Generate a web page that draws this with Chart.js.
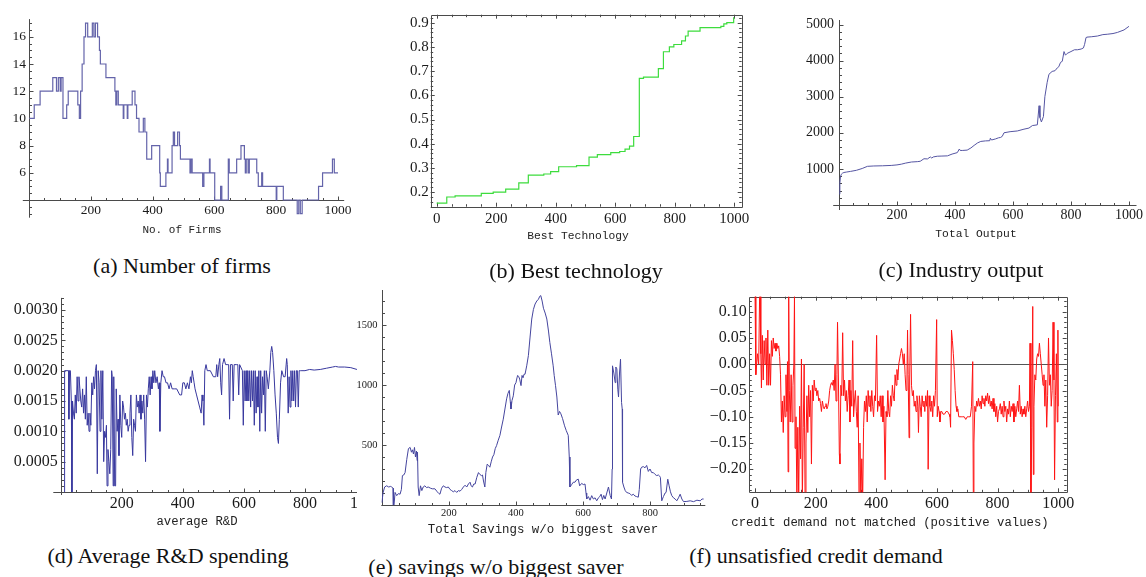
<!DOCTYPE html>
<html>
<head>
<meta charset="utf-8">
<script src="https://cdn.jsdelivr.net/npm/chart.js@4.4.1/dist/chart.umd.min.js"></script>
<style>
  body { margin: 0; width: 1146px; height: 577px; background: #fff; position: relative; overflow: hidden; }
  canvas { position: absolute; }
  .cap { position: absolute; z-index: 6; font-family: "Liberation Serif", "Times New Roman", Times, serif; font-size: 22px; color: #111; white-space: nowrap; transform: translate(-50%, -50%); }
  .lbl { position: absolute; z-index: 5; font-family: "Liberation Mono", "Courier New", Courier, monospace; color: #222; white-space: nowrap; transform: translate(-50%, -50%); }
</style>
</head>
<body>
<canvas id="ca" width="360" height="245" style="left:0;top:0"></canvas>
<canvas id="cb" width="390" height="245" style="left:370px;top:0"></canvas>
<canvas id="cc" width="366" height="245" style="left:780px;top:0"></canvas>
<canvas id="cd" width="390" height="245" style="left:0;top:280px;z-index:1"></canvas>
<canvas id="ce" width="353" height="240" style="left:357px;top:285px;z-index:2;background:#fff"></canvas>
<canvas id="cf" width="446" height="250" style="left:700px;top:280px;z-index:3"></canvas>

<div class="lbl" style="left:182px;top:230px;font-size:11px">No. of Firms</div>
<div class="lbl" style="left:578px;top:236px;font-size:11.3px">Best Technology</div>
<div class="lbl" style="left:976px;top:234px;font-size:11.3px">Total Output</div>
<div class="lbl" style="left:197px;top:522px;font-size:12.3px">average R&amp;D</div>
<div class="lbl" style="left:543px;top:530px;font-size:12.4px">Total Savings w/o biggest saver</div>
<div class="lbl" style="left:890px;top:523px;font-size:12.3px">credit demand not matched (positive values)</div>

<div class="cap" style="left:182px;top:266px">(a) Number of firms</div>
<div class="cap" style="left:576px;top:271px">(b) Best technology</div>
<div class="cap" style="left:961px;top:270px">(c) Industry output</div>
<div class="cap" style="left:168px;top:556px">(d) Average R&amp;D spending</div>
<div class="cap" style="left:496px;top:567px">(e) savings w/o biggest saver</div>
<div class="cap" style="left:816px;top:556px">(f) unsatisfied credit demand</div>

<script>
// (a) number of firms, stepped
const A_X = [1, 17, 36, 77, 89, 95, 101, 104, 110, 122,
  127, 158, 163, 167, 172, 178, 183, 190, 205, 210,
  215, 222, 228, 231, 249, 278, 281, 284, 289, 305,
  307, 318, 320, 334, 343, 348, 356, 370, 375, 381,
  397, 423, 425, 443, 448, 450, 463, 467, 471, 481,
  487, 490, 521, 524, 528, 562, 566, 584, 586, 601,
  611, 620, 624, 645, 648, 672, 686, 697, 700, 703,
  709, 713, 737, 742, 753, 756, 800, 802, 823, 868,
  873, 878, 884, 937, 950, 982, 988, 1000];
const A_Y = [10, 11, 12, 13, 12, 13, 12, 13, 10, 11,
  12, 11, 10, 12, 14, 16, 17, 16, 17, 16,
  17, 16, 15, 14, 13, 12, 11, 12, 11, 10,
  11, 10, 11, 12, 11, 10, 9, 10, 9, 7,
  8, 6, 5, 6, 7, 6, 8, 9, 8, 9,
  8, 7, 6, 7, 6, 5, 6, 7, 6, 4,
  4, 5, 4, 7, 6, 7, 8, 7, 6, 7,
  6, 7, 6, 5, 6, 5, 4, 5, 4, 3,
  4, 3, 4, 5, 6, 7, 6, 6];
const A_XTICKS = [200, 400, 600, 800, 1000];
const A_YTICKS = [6, 8, 10, 12, 14, 16];

// (b) best technology, stepped
const B_X = [0, 34, 62, 150, 190, 232, 276, 308, 360, 383,
  410, 470, 512, 540, 585, 615, 633, 648, 662, 681,
  695, 745, 762, 782, 797, 823, 836, 845, 885, 955,
  965, 975, 998, 1000];
const B_Y = [0.155, 0.18, 0.185, 0.195, 0.2, 0.213, 0.238, 0.27, 0.275, 0.285,
  0.305, 0.31, 0.345, 0.355, 0.363, 0.368, 0.378, 0.39, 0.43, 0.67,
  0.675, 0.71, 0.78, 0.80, 0.81, 0.825, 0.845, 0.865, 0.88, 0.885,
  0.895, 0.9, 0.92, 0.92];
const B_XTICKS = [0, 200, 400, 600, 800, 1000];
const B_YTICKS = [0.2, 0.3, 0.4, 0.5, 0.6, 0.7, 0.8, 0.9];

// (c) industry output
const C_X = [1, 3, 5, 8, 12, 17, 25, 40, 60, 80,
  98, 120, 150, 180, 200, 215, 230, 250, 270, 280,
  293, 305, 315, 320, 325, 339, 355, 374, 390, 408,
  415, 418, 425, 442, 455, 466, 478, 489, 505, 520,
  522, 526, 540, 550, 557, 563, 569, 590, 615, 638,
  655, 667, 676, 684, 690, 693, 698, 705, 710, 718,
  724, 735, 745, 753, 758, 764, 770, 776, 781, 787,
  800, 812, 822, 835, 843, 847, 852, 854, 870, 891,
  910, 925, 945, 960, 983, 1000];
const C_Y = [300, 600, 780, 850, 880, 900, 910, 930, 960, 1010,
  1070, 1080, 1085, 1095, 1110, 1130, 1160, 1190, 1200, 1210,
  1280, 1275, 1330, 1300, 1330, 1350, 1355, 1360, 1410, 1450,
  1550, 1510, 1510, 1520, 1580, 1650, 1720, 1760, 1775, 1780,
  1850, 1800, 1830, 1860, 1870, 1900, 2000, 2030, 2050, 2100,
  2130, 2200, 2210, 2220, 2750, 2420, 2300, 2450, 3000, 3400,
  3620, 3700, 3720, 3800, 3830, 3950, 3980, 4250, 4150, 4200,
  4250, 4300, 4300, 4320, 4350, 4450, 4640, 4650, 4660, 4680,
  4720, 4730, 4750, 4780, 4850, 4950];
const C_XTICKS = [200, 400, 600, 800, 1000];
const C_YTICKS = [1000, 2000, 3000, 4000, 5000];

// (d) average R&D
const D_X = [12, 13, 26, 27, 29, 32, 35, 37, 39, 42,
  45, 48, 51, 54, 57, 60, 63, 66, 69, 72,
  75, 78, 81, 84, 87, 90, 93, 96, 99, 102,
  105, 108, 111, 114, 117, 120, 123, 126, 129, 132,
  135, 138, 141, 144, 147, 150, 152, 155, 158, 161,
  164, 167, 169, 172, 174, 177, 180, 182, 185, 188,
  191, 194, 197, 200, 203, 206, 209, 212, 215, 218,
  221, 224, 227, 230, 233, 236, 239, 242, 245, 248,
  251, 254, 257, 260, 263, 266, 269, 272, 275, 278,
  281, 284, 287, 290, 293, 296, 299, 302, 305, 308,
  312, 316, 320, 323, 325, 328, 332, 336, 340, 345,
  350, 355, 360, 365, 372, 380, 390, 396, 400, 405,
  410, 415, 420, 425, 428, 431, 434, 437, 440, 445,
  450, 455, 460, 463, 466, 469, 472, 476, 480, 490,
  500, 508, 511, 514, 518, 521, 524, 527, 530, 535,
  540, 545, 550, 553, 556, 562, 565, 568, 575, 580,
  583, 586, 595, 598, 601, 604, 607, 610, 613, 616,
  619, 622, 625, 628, 631, 634, 637, 640, 643, 646,
  649, 652, 655, 658, 661, 664, 667, 670, 673, 676,
  680, 685, 688, 691, 694, 698, 702, 706, 710, 713,
  716, 720, 724, 730, 735, 740, 742, 745, 748, 751,
  754, 757, 760, 763, 766, 769, 772, 775, 778, 781,
  785, 790, 800, 815, 830, 850, 870, 890, 900, 910,
  930, 950, 970, 990, 1000];
const D_Y = [0.0000, 0.0020, 0.0020, 0.0012, 0.0020, 0.0020, 0.0015, 0.0000, 0.0015, 0.0013,
  0.0012, 0.0016, 0.0013, 0.0019, 0.0015, 0.0019, 0.0017, 0.0015, 0.0014, 0.0017,
  0.0013, 0.0016, 0.0012, 0.0019, 0.0011, 0.0013, 0.0010, 0.0013, 0.0011, 0.0018,
  0.0016, 0.0019, 0.0017, 0.0020, 0.0021, 0.0003, 0.0020, 0.0018, 0.0010, 0.0020,
  0.0012, 0.0020, 0.0005, 0.0010, 0.0009, 0.0011, 0.0001, 0.0007, 0.0005, 0.0003,
  0.0007, 0.0020, 0.0019, 0.0001, 0.0019, 0.0001, 0.0001, 0.0017, 0.0010, 0.0012,
  0.0006, 0.0016, 0.0011, 0.0009, 0.0015, 0.0014, 0.0012, 0.0013, 0.0011, 0.0012,
  0.0010, 0.0011, 0.0013, 0.0016, 0.0009, 0.0006, 0.0012, 0.0011, 0.0010, 0.0016,
  0.0014, 0.0015, 0.0013, 0.0016, 0.0012, 0.0015, 0.0013, 0.0016, 0.0012, 0.0005,
  0.0016, 0.0014, 0.0017, 0.0019, 0.0016, 0.0019, 0.0017, 0.0020, 0.0018, 0.0020,
  0.0018, 0.0019, 0.0017, 0.0018, 0.0010, 0.0018, 0.0020, 0.0019, 0.0019, 0.0018,
  0.0018, 0.0017, 0.0018, 0.0017, 0.0017, 0.0017, 0.0016, 0.0016, 0.0018, 0.0018,
  0.0017, 0.0018, 0.0017, 0.0019, 0.0018, 0.0020, 0.0019, 0.0018, 0.0017, 0.0016,
  0.0015, 0.0014, 0.0013, 0.0016, 0.0015, 0.0011, 0.0020, 0.0021, 0.0020, 0.0020,
  0.0019, 0.0019, 0.0021, 0.0019, 0.0021, 0.0022, 0.0018, 0.0016, 0.0021, 0.0022,
  0.0021, 0.0021, 0.0021, 0.0012, 0.0021, 0.0021, 0.0015, 0.0021, 0.0021, 0.0021,
  0.0016, 0.0021, 0.0020, 0.0011, 0.0020, 0.0015, 0.0020, 0.0015, 0.0020, 0.0015,
  0.0020, 0.0014, 0.0020, 0.0015, 0.0020, 0.0011, 0.0020, 0.0013, 0.0019, 0.0014,
  0.0020, 0.0010, 0.0020, 0.0013, 0.0019, 0.0016, 0.0020, 0.0010, 0.0020, 0.0019,
  0.0017, 0.0020, 0.0023, 0.0024, 0.0023, 0.0020, 0.0016, 0.0013, 0.0009, 0.0008,
  0.0012, 0.0018, 0.0020, 0.0019, 0.0019, 0.0022, 0.0021, 0.0013, 0.0019, 0.0014,
  0.0020, 0.0015, 0.0020, 0.0015, 0.0020, 0.0014, 0.0020, 0.0020, 0.0014, 0.0020,
  0.0020, 0.0020, 0.0020, 0.00202, 0.00201, 0.00202, 0.00204, 0.00206, 0.00207, 0.00206,
  0.00206, 0.00205, 0.00202, 0.00201, 0.0020];
const D_XTICKS = [200, 400, 600, 800, 1000];
const D_YTICKS = [0.0005, 0.0010, 0.0015, 0.0020, 0.0025, 0.0030];

// (e) total savings w/o biggest saver
const E_X = [0, 3, 8, 14, 20, 26, 29, 33, 34, 36,
  39, 44, 49, 54, 58, 61, 65, 69, 74, 79,
  84, 88, 91, 94, 97, 100, 103, 105, 106, 108,
  111, 115, 119, 123, 128, 133, 138, 145, 150, 158,
  165, 170, 173, 178, 183, 188, 193, 198, 203, 208,
  213, 218, 223, 228, 233, 238, 243, 248, 253, 258,
  263, 266, 270, 274, 278, 283, 288, 292, 297, 300,
  303, 307, 310, 314, 318, 322, 326, 330, 334, 338,
  342, 347, 352, 357, 362, 367, 372, 376, 380, 383,
  385, 388, 392, 396, 400, 403, 405, 408, 411, 415,
  418, 421, 424, 427, 432, 437, 442, 447, 452, 457,
  462, 467, 471, 474, 478, 482, 487, 492, 497, 501,
  506, 511, 514, 518, 522, 526, 530, 534, 539, 545,
  550, 556, 559, 561, 566, 571, 576, 581, 586, 590,
  596, 601, 606, 609, 611, 616, 621, 626, 631, 636,
  641, 646, 650, 654, 658, 662, 666, 671, 676, 681,
  685, 687, 688, 692, 696, 698, 701, 704, 706, 709,
  712, 715, 717, 718, 722, 726, 730, 735, 740, 745,
  750, 755, 760, 765, 768, 772, 775, 780, 785, 790,
  795, 800, 805, 810, 815, 820, 825, 829, 831, 835,
  840, 845, 848, 853, 857, 861, 865, 870, 875, 880,
  885, 890, 895, 900, 910, 920, 930, 940, 950, 955,
  960];
const E_Y = [20, 100, 150, 160, 150, 155, 150, 140, 0, 0,
  105, 78, 95, 90, 130, 245, 250, 270, 380, 470,
  480, 440, 460, 425, 480, 400, 450, 370, 440, 150,
  78, 160, 120, 150, 160, 145, 150, 140, 135, 135,
  110, 95, 90, 140, 160, 150, 145, 150, 130, 120,
  110, 120, 105, 120, 115, 130, 150, 165, 150, 175,
  190, 160, 150, 175, 175, 230, 270, 255, 245, 250,
  200, 150, 270, 340, 330, 315, 360, 400, 420, 470,
  495, 540, 580, 650, 715, 800, 885, 930, 955, 860,
  800, 870, 910, 1000, 1020, 1060, 1080, 1070, 1050, 995,
  1080, 1060, 1090, 1090, 1160, 1245, 1400, 1550, 1630, 1675,
  1700, 1715, 1740, 1745, 1700, 1640, 1600, 1550, 1450, 1355,
  1260, 1160, 1080, 995, 900, 750, 780, 760, 720, 660,
  620, 580, 400, 150, 170, 190, 190, 210, 215, 160,
  180, 170, 175, 100, 50, 70, 40, 78, 50, 60,
  35, 60, 70, 90, 45, 80, 50, 100, 150, 80,
  50, 300, 1160, 1100, 1020, 1150, 1135, 960, 900, 1100,
  1215, 855, 800, 190, 150, 120, 105, 100, 95, 80,
  90, 75, 70, 65, 130, 300, 315, 320, 310, 330,
  280, 300, 270, 270, 255, 245, 250, 240, 230, 35,
  70, 100, 105, 215, 160, 110, 78, 60, 50, 35,
  60, 90, 50, 28, 30, 35, 28, 40, 35, 50,
  50];
const E_XTICKS = [200, 400, 600, 800];
const E_YTICKS = [500, 1000, 1500];

// (f) unsatisfied credit demand
const F_X = [0, 2, 3, 8, 12, 15, 17, 19, 21, 24,
  27, 30, 33, 36, 39, 42, 45, 48, 51, 54,
  57, 60, 63, 66, 69, 72, 75, 78, 81, 84,
  87, 90, 93, 96, 99, 102, 105, 107, 109, 111,
  113, 116, 119, 122, 125, 128, 130, 132, 135, 138,
  141, 144, 147, 150, 153, 156, 159, 162, 165, 168,
  171, 174, 177, 180, 183, 186, 189, 192, 195, 198,
  201, 204, 207, 210, 213, 216, 219, 222, 225, 228,
  231, 234, 237, 240, 243, 246, 249, 252, 255, 258,
  261, 264, 267, 270, 272, 275, 278, 280, 283, 286,
  289, 292, 295, 298, 301, 304, 307, 310, 313, 316,
  319, 322, 325, 328, 331, 334, 337, 340, 343, 346,
  349, 352, 355, 358, 361, 364, 367, 370, 373, 376,
  379, 382, 385, 388, 391, 394, 397, 401, 404, 407,
  410, 413, 416, 419, 422, 425, 429, 432, 435, 438,
  441, 444, 447, 450, 453, 456, 459, 462, 465, 468,
  471, 474, 477, 480, 483, 486, 489, 492, 495, 498,
  501, 503, 505, 508, 510, 513, 516, 519, 522, 525,
  528, 531, 534, 537, 539, 542, 545, 548, 551, 554,
  557, 560, 563, 566, 569, 571, 574, 577, 580, 583,
  586, 589, 592, 595, 599, 601, 604, 607, 610, 613,
  616, 620, 625, 630, 635, 640, 643, 645, 648, 651,
  654, 657, 660, 663, 666, 669, 672, 676, 680, 685,
  690, 695, 700, 705, 710, 714, 718, 720, 722, 725,
  728, 731, 734, 737, 740, 743, 746, 749, 752, 755,
  758, 761, 764, 767, 770, 773, 776, 779, 782, 785,
  788, 791, 794, 797, 800, 803, 806, 809, 812, 815,
  818, 821, 824, 827, 830, 833, 836, 839, 842, 845,
  848, 851, 854, 857, 860, 863, 866, 869, 872, 875,
  878, 881, 884, 887, 890, 893, 896, 899, 902, 905,
  907, 910, 913, 916, 918, 920, 923, 926, 929, 932,
  935, 938, 941, 944, 947, 950, 953, 956, 959, 962,
  965, 968, 971, 974, 977, 980, 983, 986, 988, 991,
  994, 997, 999, 1000];
const F_Y = [0.13, 0.13, -0.02, 0.02, 0.0, 0.13, 0.13, 0.02, -0.045, 0.055,
  -0.03, 0.045, 0.0, 0.05, -0.04, 0.065, -0.04, 0.02, -0.04, 0.045,
  0.015, 0.05, 0.03, 0.04, 0.025, 0.04, 0.03, 0.035, 0.015, -0.02,
  -0.11, -0.07, -0.13, -0.06, -0.10, -0.02, -0.09, 0.005, -0.205, 0.13,
  -0.05, -0.11, -0.02, -0.11, -0.04, 0.0, 0.13, -0.16, -0.10, -0.26,
  -0.12, -0.26, -0.08, -0.18, 0.01, -0.26, -0.12, 0.0, -0.26, -0.15,
  -0.06, -0.13, -0.04, -0.10, -0.05, -0.19, -0.04, -0.07, -0.03, -0.05,
  -0.045, -0.06, -0.05, -0.07, -0.065, -0.075, -0.09, -0.07, -0.08, -0.085,
  -0.08, -0.075, -0.085, -0.08, -0.07, -0.05, -0.04, -0.035, -0.04, -0.03,
  -0.05, 0.0, -0.07, -0.02, 0.08, -0.03, -0.17, -0.19, -0.04, -0.06,
  0.06, -0.06, -0.03, -0.07, -0.05, -0.09, -0.06, -0.03, -0.11, -0.05,
  -0.08, 0.045, -0.10, -0.07, -0.05, -0.09, -0.12, -0.06, -0.26, -0.15,
  -0.26, -0.18, -0.26, -0.12, -0.07, -0.09, -0.06, -0.11, -0.05, -0.08,
  -0.06, -0.09, -0.05, -0.08, -0.10, -0.06, -0.07, 0.055, -0.09, -0.07,
  -0.08, -0.06, -0.10, -0.06, -0.11, -0.08, -0.22, -0.09, -0.10, -0.05,
  -0.09, -0.10, -0.06, -0.08, -0.04, -0.06, -0.07, -0.02, -0.04, -0.01,
  -0.03, 0.0, 0.01, 0.02, 0.03, 0.02, 0.0, 0.02, -0.02, -0.05,
  -0.03, 0.065, -0.02, -0.14, -0.03, 0.095, -0.04, -0.06, -0.05, -0.08,
  -0.07, -0.09, -0.06, -0.08, -0.13, -0.06, -0.08, -0.10, -0.06, -0.08,
  -0.07, -0.09, -0.06, -0.08, -0.05, -0.20, -0.06, -0.08, -0.09, -0.07,
  -0.10, -0.06, -0.08, -0.05, 0.085, -0.10, -0.08, -0.09, -0.11, -0.09,
  -0.09, -0.095, -0.095, -0.09, -0.09, -0.095, -0.10, -0.12, 0.065, 0.045,
  0.02, -0.01, -0.05, -0.08, -0.09, -0.085, -0.10, -0.10, -0.10, -0.10,
  -0.10, -0.105, -0.10, -0.10, -0.10, -0.08, 0.005, -0.26, -0.15, -0.08,
  -0.09, -0.07, -0.08, -0.065, -0.08, -0.07, -0.085, -0.06, -0.075, -0.065,
  -0.08, -0.06, -0.07, -0.055, -0.075, -0.06, -0.08, -0.07, -0.085, -0.065,
  -0.09, -0.075, -0.10, -0.08, -0.11, -0.09, -0.085, -0.075, -0.095, -0.08,
  -0.10, -0.07, -0.09, -0.08, -0.11, -0.085, -0.095, -0.07, -0.10, -0.08,
  -0.09, -0.075, -0.11, -0.08, -0.10, -0.085, -0.07, -0.09, -0.04, -0.095,
  -0.08, -0.10, -0.085, -0.095, -0.08, -0.10, -0.085, -0.07, -0.09, -0.08,
  0.04, -0.26, -0.12, 0.11, -0.21, -0.08, -0.02, -0.03, 0.01, 0.02,
  0.015, 0.04, 0.02, 0.0, -0.02, -0.04, -0.02, -0.08, -0.03, -0.12,
  -0.06, 0.05, -0.04, -0.02, -0.08, -0.05, 0.08, -0.03, -0.22, -0.06,
  0.02, -0.11, 0.065, -0.08];
const F_XTICKS = [0, 200, 400, 600, 800, 1000];
const F_YTICKS = [0.10, 0.05, 0.00, -0.05, -0.10, -0.15, -0.20];

// axis styling per canvas (Mathematica look: axes crossing or a framed box)
const AXES = {
  ca: { frame: false, xAt: 4, yAt: 0, xt: A_XTICKS, yt: A_YTICKS, xm: 50, ym: 0.5, xd: 0, yd: 0, fs: 13.5, xOff: 10, yOff: 3 },
  cb: { frame: true, xt: B_XTICKS, yt: B_YTICKS, xm: 50, ym: 0.02, xd: 0, yd: 1, fs: 15, xOff: 12, yOff: 2 },
  cc: { frame: false, xAt: 0, yAt: 0, xt: C_XTICKS, yt: C_YTICKS, xm: 50, ym: 200, xd: 0, yd: 0, fs: 14, xOff: 10, yOff: 5 },
  cd: { frame: false, xAt: 0, yAt: 0, xt: D_XTICKS, yt: D_YTICKS, xm: 50, ym: 0.0001, xd: 0, yd: 4, fs: 16, xOff: 11.5, yOff: 3 },
  ce: { frame: false, xAt: 0, yAt: 0, xt: E_XTICKS, yt: E_YTICKS, xm: 50, ym: 100, xd: 0, yd: 0, fs: 10.5, xOff: 8.5, yOff: 4.5 },
  cf: { frame: true, zero: 0, xt: F_XTICKS, yt: F_YTICKS, xm: 50, ym: 0.01, xd: 0, yd: 2, fs: 16, xOff: 11, yOff: 2.5 }
};

const fmt = (v, d) => (v < -1e-12 ? '\u2212' : '') + Math.abs(v).toFixed(d);

function steps(lo, hi, step) {
  const out = [];
  for (let k = Math.ceil(lo / step - 1e-6); k * step <= hi + step * 1e-6; k++) out.push(k * step);
  return out;
}

const mmaAxes = {
  id: 'mmaAxes',
  beforeDatasetsDraw(chart) {
    const o = AXES[chart.canvas.id];
    const { ctx, chartArea: a } = chart;
    const sx = chart.scales.x, sy = chart.scales.y;
    const px = v => Math.round(v) + 0.5;
    const isMajor = (v, list, step) => list.some(m => Math.abs(m - v) < step * 1e-3);
    ctx.save();
    ctx.lineWidth = 1;
    ctx.strokeStyle = '#4a4a4a';
    ctx.beginPath();
    let xBase, yBase;
    if (o.frame) {
      ctx.rect(px(a.left), px(a.top), Math.round(a.right) - Math.round(a.left), Math.round(a.bottom) - Math.round(a.top));
      xBase = a.bottom; yBase = a.left;
      steps(sx.min, sx.max, o.xm).forEach(v => {
        const X = px(sx.getPixelForValue(v));
        const len = isMajor(v, o.xt, o.xm) ? 4 : 2.5;
        ctx.moveTo(X, a.bottom); ctx.lineTo(X, a.bottom - len);
        ctx.moveTo(X, a.top); ctx.lineTo(X, a.top + len);
      });
      steps(sy.min, sy.max, o.ym).forEach(v => {
        const Y = px(sy.getPixelForValue(v));
        const len = isMajor(v, o.yt, o.ym) ? 4 : 2.5;
        ctx.moveTo(a.left, Y); ctx.lineTo(a.left + len, Y);
        ctx.moveTo(a.right, Y); ctx.lineTo(a.right - len, Y);
      });
    } else {
      xBase = sy.getPixelForValue(o.xAt);
      yBase = sx.getPixelForValue(o.yAt);
      const AY = px(xBase), AX = px(yBase);
      ctx.moveTo(a.left, AY); ctx.lineTo(a.right, AY);
      ctx.moveTo(AX, a.top); ctx.lineTo(AX, a.bottom);
      steps(sx.min, sx.max, o.xm).forEach(v => {
        const X = px(sx.getPixelForValue(v));
        ctx.moveTo(X, AY); ctx.lineTo(X, AY - (isMajor(v, o.xt, o.xm) ? 4 : 2.5));
      });
      steps(sy.min, sy.max, o.ym).forEach(v => {
        const Y = px(sy.getPixelForValue(v));
        ctx.moveTo(AX, Y); ctx.lineTo(AX + (isMajor(v, o.yt, o.ym) ? 4 : 2.5), Y);
      });
    }
    ctx.stroke();

    if (o.zero !== undefined) {
      const Z = px(sy.getPixelForValue(o.zero));
      ctx.strokeStyle = '#555';
      ctx.beginPath(); ctx.moveTo(a.left, Z); ctx.lineTo(a.right, Z); ctx.stroke();
    }

    // tick labels
    ctx.fillStyle = '#1a1a1a';
    ctx.font = o.fs + 'px "Liberation Serif", "Times New Roman", serif';
    ctx.textAlign = 'center'; ctx.textBaseline = 'middle';
    o.xt.forEach(v => ctx.fillText(fmt(v, o.xd), sx.getPixelForValue(v), xBase + o.xOff));
    ctx.textAlign = 'right';
    o.yt.forEach(v => ctx.fillText(fmt(v, o.yd), yBase - o.yOff, sy.getPixelForValue(v)));
    ctx.restore();
  }
};

function makeChart(id, xs, ys, opt) {
  return new Chart(document.getElementById(id), {
    type: 'line',
    data: {
      datasets: [{
        data: xs.map((x, i) => ({ x: x, y: ys[i] })),
        borderColor: opt.color,
        borderWidth: opt.lw,
        pointRadius: 0,
        fill: false,
        tension: 0,
        stepped: opt.stepped || false
      }]
    },
    options: {
      responsive: false,
      animation: false,
      devicePixelRatio: 1,
      layout: { padding: opt.pad },
      scales: {
        x: { type: 'linear', display: false, min: opt.xr[0], max: opt.xr[1] },
        y: { type: 'linear', display: false, min: opt.yr[0], max: opt.yr[1] }
      },
      plugins: { legend: { display: false }, tooltip: { enabled: false } }
    },
    plugins: [mmaAxes]
  });
}

makeChart('ca', A_X, A_Y, { color: '#6464aa', lw: 1.2, stepped: true, xr: [-20, 1020], yr: [2.7, 17.3],
  pad: { left: 22.8, right: 15.8, top: 19.1, bottom: 27.3 } });
makeChart('cb', B_X, B_Y, { color: '#3ddc3d', lw: 1.2, stepped: true, xr: [-20, 1025], yr: [0.14, 0.933],
  pad: { left: 60.7, right: 18.3, top: 14.7, bottom: 38.3 } });
makeChart('cc', C_X, C_Y, { color: '#5555a2', lw: 1, xr: [-20, 1026], yr: [-140, 5125],
  pad: { left: 53.2, right: 9.5, top: 20, bottom: 35 } });
makeChart('cd', D_X, D_Y, { color: '#38389e', lw: 1, xr: [-24, 1020], yr: [-0.00005, 0.0032],
  pad: { left: 53.3, right: 17.8, top: 17.9, bottom: 30 } });
makeChart('ce', E_X, E_Y, { color: '#45459e', lw: 1, xr: [-2, 965], yr: [-5, 1792],
  pad: { left: 24.3, right: 4.7, top: 5, bottom: 19.4 } });
makeChart('cf', F_X, F_Y, { color: '#ff1414', lw: 1, xr: [-19, 1028], yr: [-0.2438, 0.1286],
  pad: { left: 49.3, right: 79.3, top: 16.7, bottom: 37.7 } });
</script>
</body>
</html>
